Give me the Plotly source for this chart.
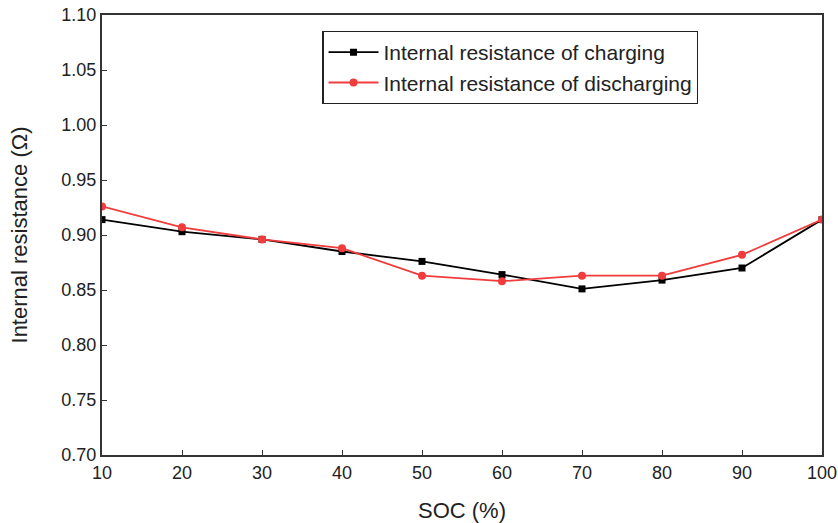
import plotly.graph_objects as go

soc = [10, 20, 30, 40, 50, 60, 70, 80, 90, 100]
charging = [0.914, 0.903, 0.896, 0.885, 0.876, 0.864, 0.851, 0.859, 0.870, 0.914]
discharging = [0.926, 0.907, 0.896, 0.888, 0.863, 0.858, 0.863, 0.863, 0.882, 0.914]
yticks = [0.70, 0.75, 0.80, 0.85, 0.90, 0.95, 1.00, 1.05, 1.10]

fig = go.Figure()
fig.add_trace(go.Scatter(x=soc, y=charging, mode="lines+markers",
                         name="Internal resistance of charging",
                         line=dict(color="black", width=1.8),
                         marker=dict(symbol="square", size=7, color="black")))
fig.add_trace(go.Scatter(x=soc, y=discharging, mode="lines+markers",
                         name="Internal resistance of discharging",
                         line=dict(color="#f03c3c", width=1.8),
                         marker=dict(symbol="circle", size=8, color="#f03c3c")))

fig.update_layout(
    width=838, height=523,
    margin=dict(l=102, r=16, t=15, b=68),
    plot_bgcolor="white", paper_bgcolor="white",
    font=dict(family="Liberation Sans, Arial, sans-serif", size=18, color="#222"),
    showlegend=True,
    legend=dict(x=0.306, y=0.964, xanchor="left", yanchor="top",
                bordercolor="#222", borderwidth=1.2, bgcolor="white",
                font=dict(size=21), tracegroupgap=0, itemwidth=50),
)
fig.update_xaxes(range=[10, 100], tickvals=soc, ticks="inside", ticklen=5,
                 tickcolor="#333", showline=True, linecolor="#333", linewidth=2,
                 mirror=True, showgrid=False, zeroline=False, automargin=False,
                 tickfont=dict(size=18),
                 title=dict(text="SOC (%)", standoff=22))
fig.update_yaxes(range=[0.70, 1.10], tickvals=yticks,
                 ticktext=[f"{v:.2f}" for v in yticks], ticks="inside", ticklen=5,
                 tickcolor="#333", showline=True, linecolor="#333", linewidth=2,
                 mirror=True, showgrid=False, zeroline=False, automargin=False,
                 tickfont=dict(size=18),
                 title=dict(text="Internal resistance (Ω)", standoff=28))

fig.write_html("out.html")
